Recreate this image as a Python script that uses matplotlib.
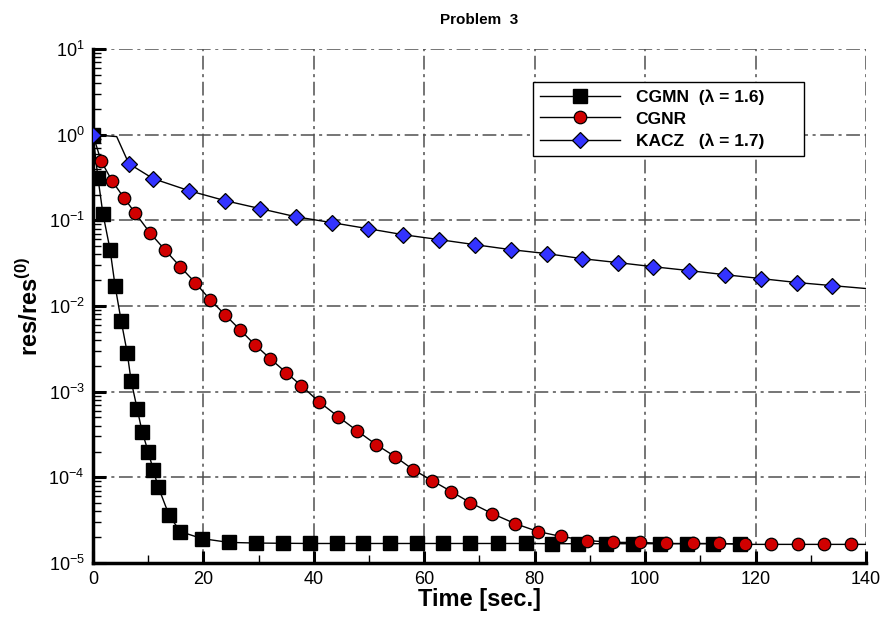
import numpy as np
import matplotlib
matplotlib.use('Agg')
import matplotlib.pyplot as plt
from matplotlib.ticker import MultipleLocator, NullFormatter

plt.rcParams['font.family'] = ['Liberation Sans', 'DejaVu Sans']
plt.rcParams['axes.unicode_minus'] = False
plt.rcParams['mathtext.fontset'] = 'custom'
plt.rcParams['mathtext.rm'] = 'Liberation Sans'
plt.rcParams['mathtext.bf'] = 'Liberation Sans:bold'

# CGMN (lambda = 1.6) - quadrados pretos
t_cgmn = [0, 0.9, 1.8, 3.1, 4.0, 5.1, 6.2, 6.9, 8.0, 8.9, 10.0, 10.9, 11.8,
          13.8, 15.8, 19.7, 24.6, 29.5, 34.4, 39.3, 44.2, 48.9, 53.8, 58.7,
          63.4, 68.3, 73.4, 78.4, 83.2, 87.9, 92.9, 97.8, 102.7, 107.6,
          112.3, 117.2]
r_cgmn = [1.0, 0.315, 0.12, 0.0455, 0.0173, 0.00676, 0.00286, 0.00135,
          6.35e-4, 3.42e-4, 2.0e-4, 1.23e-4, 7.8e-5, 3.6e-5, 2.33e-5,
          1.93e-5, 1.74e-5, 1.71e-5, 1.70e-5, 1.69e-5, 1.69e-5, 1.69e-5,
          1.69e-5, 1.69e-5, 1.69e-5, 1.69e-5, 1.69e-5, 1.69e-5, 1.68e-5,
          1.68e-5, 1.68e-5, 1.68e-5, 1.68e-5, 1.68e-5, 1.68e-5, 1.68e-5]

# CGNR - circulos vermelhos
t_cgnr = [0, 1.45, 3.44, 5.6, 7.6, 10.3, 13.0, 15.8, 18.5, 21.2, 23.9, 26.6,
          29.3, 32.1, 35.0, 37.7, 40.9, 44.4, 47.8, 51.3, 54.7, 58.0, 61.4,
          64.9, 68.3, 72.3, 76.4, 80.6, 84.8, 89.5, 94.2, 99.1, 103.8, 108.7,
          113.4, 118.1, 122.8, 127.7, 132.4, 137.3]
r_cgnr = [1.0, 0.497, 0.290, 0.184, 0.123, 0.0718, 0.0455, 0.0288, 0.0188,
          0.0119, 0.00794, 0.00531, 0.00355, 0.00243, 0.00167, 0.00118,
          7.66e-4, 5.12e-4, 3.51e-4, 2.41e-4, 1.75e-4, 1.23e-4, 9.18e-5,
          6.83e-5, 5.08e-5, 3.78e-5, 2.89e-5, 2.33e-5, 2.04e-5, 1.83e-5,
          1.74e-5, 1.74e-5, 1.69e-5, 1.69e-5, 1.69e-5, 1.65e-5, 1.65e-5,
          1.65e-5, 1.65e-5, 1.65e-5]

# KACZ (lambda = 1.7) - losangos azuis
t_kacz = [0, 6.5, 10.9, 17.4, 23.9, 30.3, 36.8, 43.3, 49.8, 56.2, 62.7, 69.2,
          75.7, 82.2, 88.6, 95.1, 101.4, 108.0, 114.5, 121.0, 127.5, 133.9]
r_kacz = [1.0, 0.459, 0.307, 0.222, 0.170, 0.137, 0.110, 0.094, 0.080, 0.068,
          0.0596, 0.052, 0.0455, 0.0409, 0.0357, 0.0321, 0.0288, 0.0259,
          0.0232, 0.0209, 0.0188, 0.0173]

# pontos extras da curva (sem marcador)
t_cgnr_fim, r_cgnr_fim = 140, 1.65e-5
t_kacz_ini, r_kacz_ini = 4.3, 0.95
t_kacz_fim, r_kacz_fim = 140, 0.0160

# ticks do eixo y
decadas = np.arange(-5, 2)

fig = plt.figure(figsize=(8.87, 6.23), dpi=100)
ax = fig.add_axes([0.1048, 0.0963, 0.8715, 0.825])

# curvas
ax.plot(t_cgmn, r_cgmn, '-', color='black', lw=1.0, zorder=3)
ax.plot(t_cgnr + [t_cgnr_fim], r_cgnr + [r_cgnr_fim], '-', color='black', lw=1.0, zorder=4)
ax.plot([t_kacz[0], t_kacz_ini] + t_kacz[1:] + [t_kacz_fim],
        [r_kacz[0], r_kacz_ini] + r_kacz[1:] + [r_kacz_fim], '-', color='black', lw=1.0, zorder=5)

# marcadores
ax.plot(t_cgmn, r_cgmn, marker='s', ms=9.5, mfc='black', mec='black', ls='none', zorder=3)
ax.plot(t_cgnr, r_cgnr, marker='o', ms=9.0, mfc='#d00000', mec='black',
        mew=0.9, ls='none', zorder=4)
ax.plot(t_kacz, r_kacz, marker='D', ms=8.6, mfc='#3333ff', mec='black',
        mew=0.9, ls='none', zorder=5)

# handles da legenda (linha + marcador)
h1, = ax.plot([], [], '-', color='black', lw=1.0, marker='s', ms=9.5, mfc='black', mec='black')
h2, = ax.plot([], [], '-', color='black', lw=1.0, marker='o', ms=9.0, mfc='#d00000', mec='black', mew=0.9)
h3, = ax.plot([], [], '-', color='black', lw=1.0, marker='D', ms=8.6, mfc='#3333ff', mec='black', mew=0.9)

ax.set_yscale('log')
ax.set_xlim(0, 140)
ax.set_ylim(1e-5, 1e1)

ax.xaxis.set_major_locator(MultipleLocator(20))
ax.xaxis.set_minor_locator(MultipleLocator(10))
ax.set_yticks(10.0 ** decadas)
ax.set_yticklabels([r'$\mathdefault{10^{%d}}$' % d for d in decadas])
menores = [m * 10.0 ** d for d in decadas[:-1] for m in range(2, 10)]
ax.set_yticks(menores, minor=True)
ax.yaxis.set_minor_formatter(NullFormatter())

ax.tick_params(axis='both', which='major', direction='in', length=9, width=2.2,
               labelsize=13, pad=6)
ax.tick_params(axis='both', which='minor', direction='in', length=5.5, width=1.0)

for lado in ['top', 'right']:
    ax.spines[lado].set_visible(False)
for lado in ['left', 'bottom']:
    ax.spines[lado].set_linewidth(2.5)

ax.grid(True, which='major', color='#505050', lw=1.1, dashes=(9, 3, 2, 3))
ax.set_axisbelow(True)

ax.set_xlabel('Time [sec.]', fontsize=17, fontweight='bold', labelpad=0)
ax.set_ylabel(r'res/res$^{\mathbf{(0)}}$', fontsize=17, fontweight='bold', labelpad=4)
ax.set_title('Problem  3', fontsize=11, fontweight='bold', pad=18)

leg = ax.legend([h1, h2, h3],
                ['CGMN  (\u03bb = 1.6)', 'CGNR', 'KACZ   (\u03bb = 1.7)'],
                loc='upper left', bbox_to_anchor=(0.569, 0.796, 0.351, 0.140),
                mode='expand', fancybox=False, framealpha=1, edgecolor='black',
                prop={'weight': 'bold', 'size': 12.5}, handlelength=4.6,
                handletextpad=0.9, borderpad=0.42, labelspacing=0.38,
                borderaxespad=0)
leg.get_frame().set_linewidth(1.0)
leg.set_zorder(10)

plt.savefig('out.png', dpi=100)
